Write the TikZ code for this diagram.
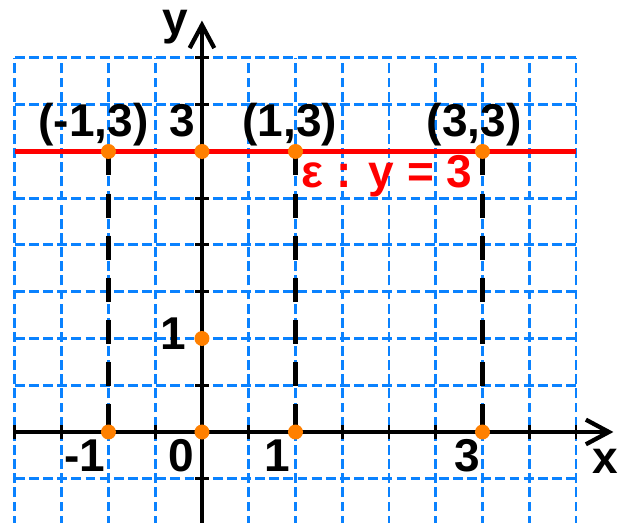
\documentclass[tikz,border=0pt]{standalone}
\usepackage{fontspec}
\setmainfont{Liberation Sans}
\usetikzlibrary{arrows.meta}
\definecolor{gridblue}{RGB}{10,130,255}
\definecolor{dotorange}{RGB}{255,128,0}

\begin{document}
\begin{tikzpicture}[>={Straight Barb[length=7pt,width=7.5pt]},
  lbl/.style={font=\fontsize{14}{16}\selectfont\bfseries,inner sep=0pt,anchor=base},
  dot/.style={fill=dotorange}]
  \useasboundingbox (-2.16,-0.973) rectangle (4.46,4.62);
  \draw[gridblue,line width=0.9pt,dash pattern=on 3pt off 1.3pt] (-2,-1) grid[step=0.5] (4,4);
  \draw[->,line width=1.3pt] (-2,0) -- (4.4,0);
  \draw[->,line width=1.3pt] (0,-1) -- (0,4.4);
  \foreach \t in {-2,-1.5,...,4} \draw[line width=0.9pt] (\t,-0.07) -- (\t,0.07);
  \foreach \t in {-0.5,0.5,1,...,4} \draw[line width=0.9pt] (-0.07,\t) -- (0.07,\t);
  \node[lbl] (xlab) at (4.31,-0.44) {x};
  \node[lbl] (ylab) at (-0.29,4.25) {y};
  \coordinate (O) at (0,0);
  \coordinate (A) at (-1,3);
  \coordinate (B) at (0,3);
  \coordinate (C) at (1,3);
  \coordinate (D) at (3,3);
  \coordinate (E) at (0,1);
  \coordinate (A0) at (-1,0);
  \coordinate (C0) at (1,0);
  \coordinate (D0) at (3,0);
  \draw[red,line width=1.3pt] (-2,3) -- (4,3);
  \draw[line width=1.5pt,dash pattern=on 7.3pt off 5.5pt] (A) -- (A0);
  \draw[line width=1.5pt,dash pattern=on 7.3pt off 5.5pt] (C) -- (C0);
  \draw[line width=1.5pt,dash pattern=on 7.3pt off 5.5pt] (D) -- (D0);
  \foreach \p in {O,A,B,C,D,E,A0,C0,D0} \fill[dot] (\p) circle (0.08);
  \node[lbl] (la) at (-1.16,3.155) {(-1,3)};
  \node[lbl] (lb) at (-0.21,3.155) {3};
  \node[lbl] (lc) at (0.94,3.155) {(1,3)};
  \node[lbl] (ld) at (2.91,3.155) {(3,3)};
  \node[lbl,red] (eq) at (1.98,2.62) {ε : y = 3};
  \node[lbl] (le) at (-0.31,0.877) {1};
  \node[lbl] (lm) at (-1.25,-0.425) {-1};
  \node[lbl] (lo) at (-0.22,-0.425) {0};
  \node[lbl] (l1) at (0.81,-0.425) {1};
  \node[lbl] (l3) at (2.84,-0.425) {3};
\end{tikzpicture}
\end{document}
